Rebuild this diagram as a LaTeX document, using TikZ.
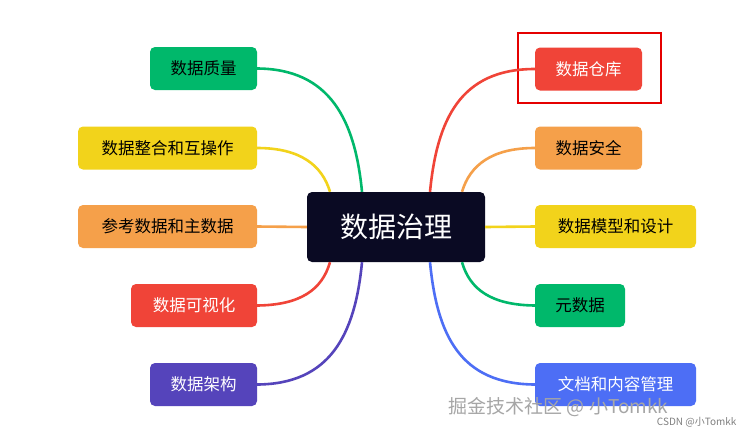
\documentclass[tikz,border=0pt]{standalone}
\usepackage{fontspec}
\setmainfont{Noto Sans CJK SC}
\begin{document}
\begin{tikzpicture}[x=1pt,y=-1pt,
  leaf/.style={rounded corners=5pt,text=black,font=\fontsize{16.5}{20}\selectfont,inner sep=0pt,minimum height=43pt,anchor=center},
  br/.style={line width=2.6pt}]
\definecolor{cgreen}{HTML}{00B86B}
\definecolor{cyellow}{HTML}{F2D31B}
\definecolor{corange}{HTML}{F5A04A}
\definecolor{cred}{HTML}{F04438}
\definecolor{cpurple}{HTML}{5544BB}
\definecolor{cblue}{HTML}{4D6EF5}
\definecolor{cdark}{HTML}{0A0A23}
\useasboundingbox[fill=white] (0,0) rectangle (751,437);
\node[fill=cdark,rounded corners=5pt,minimum width=178pt,minimum height=70pt,text=white,font=\fontsize{28}{32}\selectfont] (c) at (396,227) {数据治理};
% left
\node[leaf,fill=cgreen,minimum width=107pt] (l1) at (203.5,68.5) {数据质量};
\node[leaf,fill=cyellow,minimum width=179pt] (l2) at (167.5,148) {数据整合和互操作};
\node[leaf,fill=corange,minimum width=179pt] (l3) at (167.5,226.5) {参考数据和主数据};
\node[leaf,fill=cred,minimum width=126pt,text=white] (l4) at (194,305.5) {数据可视化};
\node[leaf,fill=cpurple,minimum width=107pt,text=white] (l5) at (203.5,384.5) {数据架构};
% right
\node[leaf,fill=cred,minimum width=107pt,text=white] (r1) at (588.5,69) {数据仓库};
\node[leaf,fill=corange,minimum width=107pt] (r2) at (588.5,148) {数据安全};
\node[leaf,fill=cyellow,minimum width=161pt] (r3) at (615.5,226.5) {数据模型和设计};
\node[leaf,fill=cgreen,minimum width=90pt] (r4) at (580,305.5) {元数据};
\node[leaf,fill=cblue,minimum width=161pt,text=white] (r5) at (615.5,384.5) {文档和内容管理};
\draw[red!90!black,line width=1.6pt] (518,33) rectangle (661,103);
% branches
\draw[br,cgreen] (l1.east) .. controls (330,69) and (355,120) .. ([xshift=-34pt]c.north);
\draw[br,cyellow] (l2.east) .. controls (300,148) and (322,165) .. ([xshift=-66pt]c.north);
\draw[br,corange] (l3.east) -- (c.west);
\draw[br,cred] (l4.east) .. controls (300,305) and (322,290) .. ([xshift=-66pt]c.south);
\draw[br,cpurple] (l5.east) .. controls (330,384) and (355,335) .. ([xshift=-34pt]c.south);
\draw[br,cred] (r1.west) .. controls (460,69) and (437,120) .. ([xshift=34pt]c.north);
\draw[br,corange] (r2.west) .. controls (492,148) and (470,165) .. ([xshift=66pt]c.north);
\draw[br,cyellow] (r3.west) -- (c.east);
\draw[br,cgreen] (r4.west) .. controls (492,305) and (470,290) .. ([xshift=66pt]c.south);
\draw[br,cblue] (r5.west) .. controls (460,384) and (437,335) .. ([xshift=34pt]c.south);
% watermark
\node[text=black!35,font=\fontsize{19}{22}\selectfont,anchor=west] (w1) at (445,407) {掘金技术社区 @ 小Tomkk};
\node[text=black!50,font=\fontsize{10}{12}\selectfont,anchor=east] (w2) at (740,422) {CSDN @小Tomkk};
\end{tikzpicture}
\end{document}
